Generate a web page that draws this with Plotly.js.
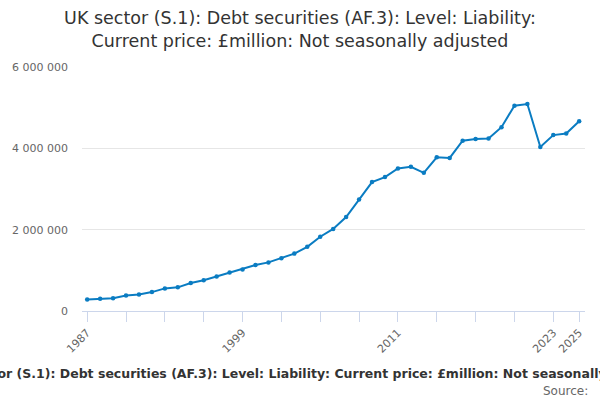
<!DOCTYPE html>
<html>
<head>
<meta charset="utf-8">
<script src="https://cdn.plot.ly/plotly-3.0.1.min.js"></script>
<style>
  html, body { margin: 0; padding: 0; background: #fff; }
  #chart { width: 600px; height: 400px; }
</style>
</head>
<body>
<div id="chart"></div>
<script>
/* global Plotly */

const titleText = 'UK sector (S.1): Debt securities (AF.3): Level: Liability:<br>Current price: £million: Not seasonally adjusted'
const seriesName = 'UK sector (S.1): Debt securities (AF.3): Level: Liability: Current price: £million: Not seasonally adjusted'

const years = [
  1987, 1988, 1989, 1990, 1991, 1992, 1993, 1994, 1995, 1996,
  1997, 1998, 1999, 2000, 2001, 2002, 2003, 2004, 2005, 2006,
  2007, 2008, 2009, 2010, 2011, 2012, 2013, 2014, 2015, 2016,
  2017, 2018, 2019, 2020, 2021, 2022, 2023, 2024, 2025
]

// £million
const liability = [
  282000, 299000, 315000, 382000, 407000, 465000, 556000, 581000, 689000, 755000,
  846000, 946000, 1021000, 1129000, 1195000, 1295000, 1411000, 1577000, 1826000, 2017000,
  2309000, 2740000, 3171000, 3293000, 3504000, 3545000, 3398000, 3780000, 3764000, 4187000,
  4228000, 4244000, 4520000, 5049000, 5089000, 4033000, 4325000, 4366000, 4667000
]

const xTickVals = [1987, 1990, 1993, 1996, 1999, 2002, 2005, 2008, 2011, 2014, 2017, 2020, 2023, 2025]
const xTickText = ['1987', '', '', '', '1999', '', '', '', '2011', '', '', '', '2023', '2025']
const yTickVals = [0, 2000000, 4000000, 6000000]

const font = 'DejaVu Sans, Verdana, sans-serif'

Plotly.newPlot('chart', [
  {
    name: seriesName,
    type: 'scatter',
    mode: 'lines+markers',
    x: years,
    y: liability,
    line: { color: '#0a7cc2', width: 2 },
    marker: { color: '#0a7cc2', size: 4.5 }
  }
], {
  width: 600,
  height: 400,
  margin: { l: 82, r: 15, t: 67, b: 89 },
  paper_bgcolor: '#fff',
  plot_bgcolor: '#fff',
  showlegend: false,
  separators: '. ',
  font: { family: font, color: '#666' },
  title: {
    text: titleText,
    xref: 'container',
    yref: 'container',
    x: 0.5,
    xanchor: 'center',
    y: 0.94,
    yanchor: 'top',
    font: { family: font, size: 17.5, color: '#333' }
  },
  xaxis: {
    range: [1986.6, 2025.45],
    tickmode: 'array',
    tickvals: xTickVals,
    ticktext: xTickText,
    tickangle: -45,
    ticks: 'outside',
    ticklen: 10,
    tickcolor: '#ccd6eb',
    tickfont: { family: font, size: 11, color: '#666' },
    showline: true,
    linecolor: '#ccd6eb',
    linewidth: 1,
    showgrid: false,
    zeroline: false,
    fixedrange: true
  },
  yaxis: {
    range: [0, 6000000],
    tickmode: 'array',
    tickvals: yTickVals,
    tickformat: ',d',
    tickfont: { family: font, size: 11, color: '#666' },
    ticklabelstandoff: 13,
    showgrid: true,
    gridcolor: '#e6e6e6',
    gridwidth: 1,
    showline: false,
    zeroline: false,
    fixedrange: true
  },
  annotations: [
    {
      text: '<b>' + seriesName + '</b>',
      xref: 'paper',
      yref: 'paper',
      x: 0.45,
      xanchor: 'center',
      y: -0.258,
      yanchor: 'middle',
      showarrow: false,
      font: { family: font, size: 12.5, color: '#333' }
    },
    {
      text: 'Source:',
      xref: 'paper',
      yref: 'paper',
      x: 1.01,
      xanchor: 'right',
      y: -0.328,
      yanchor: 'middle',
      showarrow: false,
      font: { family: font, size: 12, color: '#666' }
    }
  ]
}, { displayModeBar: false, staticPlot: true })
</script>
</body>
</html>
